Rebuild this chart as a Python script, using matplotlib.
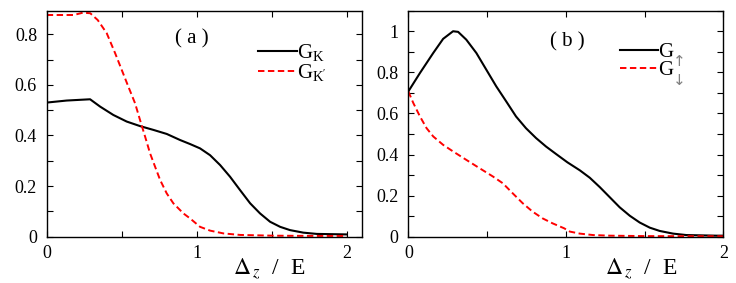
import numpy as np
import matplotlib
matplotlib.use("Agg")
import matplotlib.pyplot as plt
from matplotlib.ticker import MultipleLocator, FuncFormatter

# valores lidos do gráfico
# painel (a): G_K e G_K'
xa_k = [0, 0.133, 0.289, 0.356, 0.444, 0.533, 0.622, 0.711, 0.8, 0.889, 0.956, 1.022,
        1.089, 1.156, 1.222, 1.289, 1.356, 1.422, 1.489, 1.556, 1.622, 1.711, 1.8, 2.0]
ga_k = [0.53, 0.538, 0.543, 0.514, 0.481, 0.455, 0.437, 0.422, 0.406, 0.382, 0.366, 0.349,
        0.322, 0.283, 0.237, 0.184, 0.132, 0.092, 0.059, 0.039, 0.026, 0.016, 0.011, 0.009]

xa_kp = [0, 0.18, 0.24, 0.29, 0.34, 0.4, 0.456, 0.5, 0.544, 0.589, 0.622, 0.656, 0.689,
         0.722, 0.756, 0.8, 0.844, 0.911, 0.956, 1.022, 1.089, 1.178, 1.289, 1.511, 1.8, 2.0]
ga_kp = [0.876, 0.876, 0.885, 0.883, 0.856, 0.804, 0.725, 0.659, 0.593, 0.527, 0.461, 0.395, 0.329,
         0.277, 0.224, 0.171, 0.132, 0.092, 0.072, 0.039, 0.024, 0.013, 0.007, 0.004, 0.003, 0.003]

# painel (b): G_up e G_down
xb_up = [0, 0.074, 0.158, 0.221, 0.284, 0.316, 0.368, 0.432, 0.495, 0.558, 0.621, 0.684,
         0.747, 0.811, 0.874, 0.937, 1.01, 1.089, 1.152, 1.216, 1.279, 1.342, 1.406, 1.469,
         1.533, 1.596, 1.681, 1.765, 1.956, 2.0]
gb_up = [0.707, 0.797, 0.894, 0.963, 1.0, 0.997, 0.959, 0.894, 0.813, 0.732, 0.659, 0.585,
         0.528, 0.48, 0.439, 0.403, 0.362, 0.323, 0.287, 0.241, 0.192, 0.143, 0.102, 0.069,
         0.044, 0.028, 0.015, 0.008, 0.005, 0.005]

xb_dn = [0, 0.032, 0.074, 0.116, 0.158, 0.221, 0.284, 0.368, 0.453, 0.537, 0.6, 0.663,
         0.726, 0.789, 0.853, 0.916, 0.989, 1.025, 1.089, 1.173, 1.28, 1.5, 2.0]
gb_dn = [0.707, 0.65, 0.585, 0.528, 0.488, 0.447, 0.415, 0.374, 0.333, 0.293, 0.26, 0.211,
         0.163, 0.122, 0.089, 0.065, 0.041, 0.025, 0.015, 0.008, 0.005, 0.003, 0.002]

plt.rcParams['font.family'] = ['Liberation Serif', 'DejaVu Serif']
plt.rcParams['mathtext.fontset'] = 'stix'

fig = plt.figure(figsize=(7.36, 2.83), dpi=100)
ax1 = fig.add_axes([0.0635, 0.1636, 0.428, 0.7986])
ax2 = fig.add_axes([0.5548, 0.1636, 0.428, 0.7986])

fmt = FuncFormatter(lambda v, p: '%g' % round(v, 2))
tracejado = (0, (3.3, 1.8))


def estilo(ax, xmax, ymax, xlab):
    ax.set_xlim(0, xmax)
    ax.set_ylim(0, ymax)
    ax.xaxis.set_major_locator(MultipleLocator(1))
    ax.xaxis.set_minor_locator(MultipleLocator(0.5))
    ax.yaxis.set_major_locator(MultipleLocator(0.2))
    ax.yaxis.set_minor_locator(MultipleLocator(0.1))
    ax.xaxis.set_major_formatter(fmt)
    ax.yaxis.set_major_formatter(fmt)
    ax.tick_params(which='both', direction='in', top=True, right=True,
                   labelsize=13, width=0.8, length=4.5)
    ax.tick_params(axis='y', pad=7)
    ax.tick_params(axis='x', pad=6)
    for s in ax.spines.values():
        s.set_linewidth(1.0)
    ax.set_xlabel(r'$\Delta_{\,z}$  /  E', fontsize=17)
    ax.xaxis.set_label_coords(xlab, -0.09)


def legenda(ax, h1, h2, l1, l2):
    return ax.legend([h1, h2], [l1, l2], loc='upper left', bbox_to_anchor=(0.671, 0.86),
                     frameon=False, fontsize=15, handlelength=1.85, handletextpad=0.0,
                     labelspacing=-0.05, borderpad=0, borderaxespad=0)


# painel (a)
la1, = ax1.plot(xa_k, ga_k, color='black', lw=1.5)
la2, = ax1.plot(xa_kp, ga_kp, color='#ff0000', lw=1.4, ls=tracejado)
estilo(ax1, 2.1, 0.893, 0.707)
ax1.text(0.969, 0.78, '( a )', fontsize=15, ha='center', va='center')
legenda(ax1, la1, la2, r'$\mathregular{G_K}$', r"$\mathregular{G_{K'}}$")

# painel (b)
lb1, = ax2.plot(xb_up, gb_up, color='black', lw=1.5)
lb2, = ax2.plot(xb_dn, gb_dn, color='#ff0000', lw=1.4, ls=tracejado)
estilo(ax2, 2.0, 1.1, 0.739)
ax2.text(1.01, 0.95, '( b )', fontsize=15, ha='center', va='center')
leg_b = legenda(ax2, lb1, lb2, 'G', 'G')

# setas cinzas como subscrito dos rótulos de (b)
fig.canvas.draw()
for txt, seta in zip(leg_b.get_texts(), ['\u2191', '\u2193']):
    bb = txt.get_window_extent()
    fig.text((bb.x1 + 6) / 736, (bb.y0 + 0) / 283, seta, fontsize=11, color='#808080',
             ha='center', va='center', family=['DejaVu Sans'])

fig.savefig('out.png', dpi=100)
